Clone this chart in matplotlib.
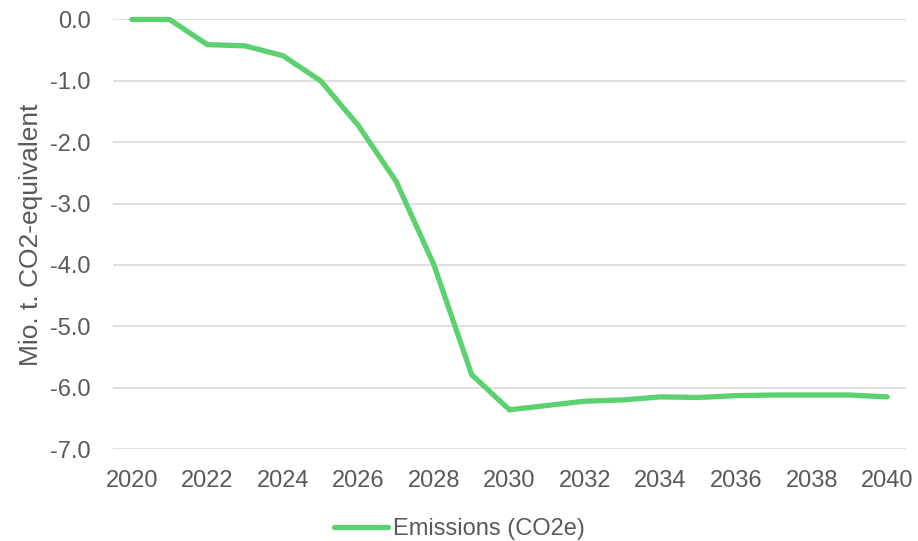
import matplotlib
matplotlib.use("Agg")
import matplotlib.pyplot as plt

years = list(range(2020, 2041))
emissions = [0.0, 0.0, -0.41, -0.43, -0.59, -1.0, -1.73, -2.64, -4.0, -5.79,
             -6.36, -6.29, -6.22, -6.20, -6.15, -6.16, -6.13, -6.12, -6.12, -6.12,
             -6.15]
y_ticks = [0, -1, -2, -3, -4, -5, -6, -7]
x_ticks = list(range(2020, 2041, 2))

plt.rcParams['font.family'] = ['Liberation Sans', 'DejaVu Sans']
text_color = "#595959"

fig = plt.figure(figsize=(9.18, 5.41), dpi=100)
ax = fig.add_axes([0.123, 0.170, 0.864, 0.794])

ax.plot(years, emissions, color="#5BD16F", linewidth=3.8,
        solid_joinstyle="miter", solid_capstyle="round", clip_on=False,
        label="Emissions (CO2e)", zorder=3)

ax.set_xlim(2019.5, 2040.5)
ax.set_ylim(-7, 0)
ax.set_yticks(y_ticks)
ax.set_yticklabels([f"{v:.1f}" for v in y_ticks])
ax.set_xticks(x_ticks)
ax.grid(axis="y", color="#D9D9D9", linewidth=1.2)
ax.set_axisbelow(True)
for s in ax.spines.values():
    s.set_visible(False)
ax.tick_params(length=0, labelsize=17, colors=text_color)
ax.tick_params(axis="x", pad=15)
ax.tick_params(axis="y", pad=16)
ax.set_ylabel("Mio. t. CO2-equivalent", fontsize=19, color=text_color, labelpad=5)

leg = fig.legend(loc="center", bbox_to_anchor=(0.5, 1 - 529 / 541), frameon=False,
                 fontsize=17, handlelength=2.3, handletextpad=0.2)
for t in leg.get_texts():
    t.set_color(text_color)

fig.savefig("out.png", dpi=100)
